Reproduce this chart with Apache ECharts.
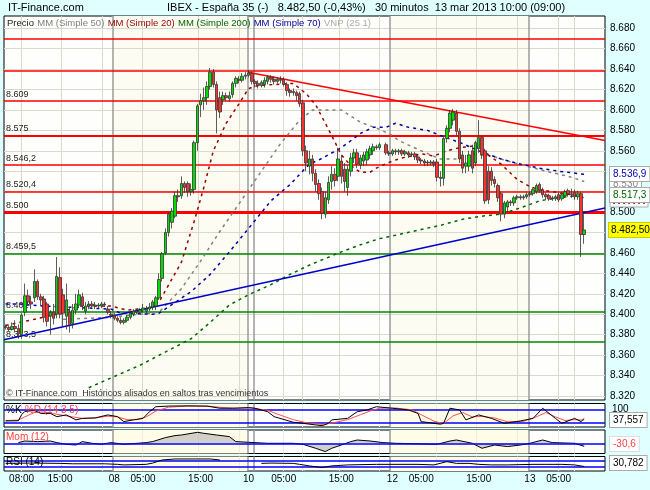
<!DOCTYPE html>
<html>
<head>
<meta charset="utf-8">
<title>IBEX - España 35 - 30 minutos</title>
<script src="https://cdn.jsdelivr.net/npm/echarts@6.0.0/dist/echarts.min.js"></script>
<style>
  html, body { margin: 0; padding: 0; background: #e0ffff; }
  #chart { width: 650px; height: 490px; }
</style>
</head>
<body>
<div id="chart"></div>
<script>
// 30-minute slots along the time axis
const N = 188;
const xLabels = [[5, '08:00'], [17, '15:00'], [34, '08'], [43, '05:00'], [61, '15:00'], [76, '10'],
  [87, '05:00'], [105, '15:00'], [121, '12'], [130, '05:00'], [148, '15:00'], [164, '13'], [173, '05:00']];
const dayLines = [33.5, 75.6, 77.5, 120.3, 163.5];
const hourLines = [5.0, 17.5, 30.3, 42.6, 60.3, 73.1, 86.7, 92.8, 104.4, 116.9, 134.8, 147.1, 160.1, 172.9, 177.9];
const shadedDays = [[33.5, 75.6], [120.3, 163.5]];

const priceTicks = [8320, 8340, 8360, 8380, 8400, 8420, 8440, 8460, 8480, 8500,
  8520, 8540, 8560, 8580, 8600, 8620, 8640, 8660, 8680];

// [open, close, low, high], one per slot from slot 0
const ohlc = [
  [8388,8387,8385,8390],[8387,8385,8383,8389],[8385,8388,8384,8392],[8388,8386,8383,8394],
  [8386,8381,8376,8390],[8380,8399,8376,8401],[8402,8418,8398,8430],[8418,8412,8408,8424],
  [8412,8410,8405,8418],[8416,8432,8412,8444],[8432,8417,8414,8434],[8417,8414,8408,8420],
  [8415,8397,8392,8418],[8410,8393,8388,8412],[8398,8402,8380,8404],[8402,8396,8390,8410],
  [8400,8437,8396,8456],[8436,8400,8396,8446],[8419,8401,8388,8425],[8398,8414,8385,8430],
  [8402,8390,8382,8407],[8391,8404,8386,8410],[8404,8410,8400,8420],[8409,8419,8406,8424],
  [8417,8408,8404,8421],[8403,8408,8400,8412],[8408,8410,8405,8413],[8410,8408,8406,8413],
  [8408,8409,8405,8412],[8409,8408,8406,8411],[8408,8410,8406,8412],[8410,8409,8407,8412],
  [8405,8402,8400,8408],[8400,8399,8396,8403],[8399,8396,8394,8401],[8396,8394,8392,8398],
  [8394,8392,8390,8397],[8392,8394,8390,8396],[8394,8397,8392,8399],[8397,8401,8395,8403],
  [8400,8403,8398,8405],[8403,8402,8400,8405],[8402,8404,8400,8406],[8404,8406,8402,8410],
  [8403,8405,8401,8408],[8405,8407,8403,8411],[8407,8412,8404,8414],[8408,8416,8404,8418],
  [8416,8434,8414,8440],[8435,8459,8432,8461],[8460,8480,8458,8484],[8480,8498,8476,8500],
  [8490,8501,8484,8504],[8496,8516,8494,8520],[8516,8515,8510,8522],[8516,8528,8513,8535],
  [8528,8524,8519,8530],[8528,8520,8515,8530],[8520,8522,8516,8528],[8522,8568,8518,8570],
  [8568,8604,8560,8606],[8605,8609,8593,8616],[8609,8612,8600,8622],[8612,8623,8605,8628],
  [8623,8637,8620,8641],[8637,8625,8622,8640],[8625,8600,8577,8628],[8612,8598,8592,8618],
  [8610,8614,8605,8618],[8614,8612,8609,8617],[8611,8614,8608,8618],[8615,8626,8612,8628],
  [8626,8631,8622,8633],[8630,8629,8626,8633],[8629,8633,8627,8636],[8633,8634,8630,8637],
  [8634,8636,8632,8639],[8636,8628,8625,8638],[8628,8626,8622,8630],[8626,8624,8621,8629],
  [8624,8627,8622,8629],[8625,8629,8622,8632],[8628,8632,8625,8634],[8632,8630,8627,8634],
  [8630,8628,8625,8633],[8628,8630,8626,8632],[8630,8629,8626,8633],[8630,8625,8623,8632],
  [8625,8619,8614,8627],[8619,8617,8613,8621],[8617,8618,8614,8621],[8617,8614,8609,8619],
  [8616,8606,8603,8618],[8607,8560,8555,8610],[8560,8548,8540,8565],[8545,8552,8537,8560],
  [8552,8538,8530,8556],[8538,8527,8520,8542],[8528,8518,8512,8532],[8520,8499,8493,8524],
  [8498,8514,8494,8520],[8512,8529,8508,8535],[8530,8537,8522,8545],[8537,8531,8525,8543],
  [8535,8552,8530,8563],[8550,8535,8528,8556],[8542,8530,8520,8548],[8524,8542,8516,8546],
  [8540,8553,8535,8558],[8553,8558,8548,8562],[8558,8547,8543,8562],[8546,8553,8542,8556],
  [8550,8556,8545,8559],[8551,8559,8546,8562],[8556,8562,8552,8565],[8560,8564,8556,8567],
  [8564,8563,8561,8566],[8563,8566,8561,8568],'-',[8566,8558,8556,8568],
  [8558,8557,8555,8560],[8557,8560,8555,8562],[8560,8559,8556,8562],[8559,8560,8556,8562],
  [8560,8557,8555,8562],[8557,8559,8555,8561],[8558,8556,8553,8560],[8556,8557,8554,8559],
  [8557,8554,8551,8559],[8554,8551,8548,8556],[8551,8550,8547,8553],[8550,8548,8545,8552],
  [8549,8548,8545,8551],[8548,8549,8546,8551],[8549,8547,8544,8551],[8549,8534,8530,8552],
  [8534,8533,8525,8540],[8533,8572,8526,8575],[8572,8582,8568,8585],[8582,8597,8578,8600],
  [8590,8598,8585,8601],[8597,8579,8575,8600],[8579,8552,8548,8582],[8556,8543,8538,8560],
  [8545,8548,8538,8556],[8545,8556,8540,8560],[8560,8543,8538,8566],[8548,8568,8545,8570],
  [8562,8573,8558,8590],[8573,8556,8552,8575],[8560,8511,8508,8562],[8540,8512,8508,8545],
  [8540,8531,8526,8544],[8532,8528,8524,8535],[8526,8514,8510,8528],[8518,8498,8491,8520],
  [8498,8509,8494,8511],[8505,8510,8500,8512],[8510,8509,8506,8512],[8509,8514,8506,8516],
  [8514,8515,8512,8517],[8515,8514,8512,8517],[8514,8515,8512,8517],[8515,8517,8513,8519],
  [8517,8518,8515,8520],[8518,8522,8516,8524],[8520,8526,8518,8528],[8527,8521,8519,8529],
  [8522,8517,8514,8524],[8517,8515,8512,8519],[8516,8513,8511,8518],[8514,8513,8511,8516],
  [8513,8515,8511,8517],[8517,8512,8510,8519],[8513,8517,8511,8519],[8516,8520,8514,8522],
  [8521,8518,8515,8523],[8518,8517,8514,8523],[8519,8515,8512,8522],[8515,8518,8512,8521],
  [8518,8478,8456,8520],[8478,8482.5,8469,8498]
];

// moving averages, [slot, value]
const mm20 = [[0,8389],[9,8395],[16,8400],[23,8408],[33,8408],[38,8404],[45,8406],[48,8412],[55,8451],
  [59,8491],[62,8524],[65,8560],[69,8587],[73,8606],[76,8621],[79,8624],[90,8626],[94,8616],[97,8605],
  [100,8587],[102,8575],[105,8556],[107,8549],[109,8543],[111,8539],[114,8539],[116,8543],[118,8546],
  [121,8550],[124,8553],[130,8557],[134,8555],[138,8560],[142,8563],[147,8565],[150,8558],[155,8547],
  [160,8532],[164,8525],[167,8522],[173,8519],[177,8517],[181,8514]];
const mm50 = [[18,8395],[33,8397],[48,8402],[55,8425],[61,8452],[67,8481],[73,8508],[80,8540],[86,8567],
  [92,8590],[96,8600],[105,8600],[111,8588],[117,8581],[121,8575],[123,8570],[130,8560],[136,8552],
  [142,8552],[146,8557],[152,8555],[157,8550],[163,8545],[169,8540],[176,8535],[181,8530]];
const mm70 = [[0,8410],[4,8410],[12,8408],[33,8405],[36,8401],[46,8400],[48,8401],[58,8422],[64,8439],
  [70,8461],[76,8484],[83,8511],[89,8527],[95,8547],[98,8551],[105,8563],[111,8577],[115,8583],
  [119,8583],[122,8587],[126,8583],[132,8580],[136,8575],[143,8567],[148,8560],[155,8552],[161,8547],
  [167,8543],[173,8540],[181,8537]];
const mm200 = [[26,8328],[42,8350],[58,8376],[64,8392],[70,8409],[76,8419],[83,8429],[89,8439],[95,8448],
  [105,8461],[111,8468],[117,8474],[123,8478],[130,8483],[136,8487],[143,8493],[149,8496],[155,8498],
  [161,8504],[167,8511],[173,8514],[181,8517]];

const resistLine = [[75.8, 8637], [187.5, 8570]];
const supportLine = [[-0.5, 8375], [187.5, 8504]];
const redLevels = [8670, 8638, 8609, 8575, 8546.2, 8520.4, 8500];
const labelledRed = [8609, 8575, 8546.2, 8520.4, 8500];
const greenLevels = [8459.5, 8402, 8373.5];

// indicators, [slot, value]
const stochK = [[0,26],[4,27],[5,55],[6,70],[9,75],[11,61],[14,61],[16,46],[19,54],[22,31],[24,38],[28,40],
  [32,54],[35,46],[37,23],[40,31],[43,38],[45,69],[47,92],[51,95],[57,96],[63,95],[67,85],[71,85],[76,88],
  [78,85],[82,69],[84,46],[90,20],[93,15],[99,4],[101,15],[102,31],[107,38],[110,69],[113,77],[116,92],
  [121,85],[126,77],[129,61],[130,23],[136,11],[137,15],[139,85],[142,77],[144,31],[148,54],[152,38],
  [156,15],[161,26],[165,38],[168,85],[172,38],[174,15],[178,38],[180,23],[181,37.557]];
const stochD = [[0,28],[4,30],[6,45],[9,65],[12,68],[15,60],[18,52],[21,45],[24,38],[28,40],[32,48],[35,45],
  [38,32],[41,32],[44,45],[47,72],[51,90],[57,95],[64,94],[68,88],[72,85],[77,86],[82,75],[85,58],[90,32],
  [94,18],[99,10],[102,16],[107,32],[111,55],[114,72],[117,85],[122,86],[127,78],[130,55],[134,25],
  [137,14],[140,50],[143,65],[146,45],[149,47],[153,40],[157,22],[162,24],[166,45],[169,65],[172,45],
  [175,28],[178,32],[181,30]];
const momentum = [[4,7],[6,23],[10,17],[14,23],[16,7],[19,-10],[22,-17],[24,17],[27,0],[30,-10],[33,7],
  [37,-10],[44,7],[46,17],[50,57],[53,77],[55,83],[60,110],[62,100],[66,83],[70,67],[72,17],[76,10],
  [82,0],[90,0],[93,-10],[97,-50],[100,-83],[102,-50],[105,-17],[108,17],[110,33],[114,23],[118,7],
  [122,0],[135,-10],[139,23],[141,33],[146,0],[149,-50],[153,-17],[157,-33],[161,-17],[164,0],[168,33],
  [171,7],[178,0],[181,-30.6]];
const rsi = [[0,53],[8,55],[17,53],[21,50],[31,50],[35,46],[37,42],[44,46],[46,55],[49,77],[53,84],[64,84],
  [67,77],[70,'-'],[80,53],[83,55],[90,53],[92,46],[95,35],[99,23],[102,35],[107,42],[116,46],[129,46],
  [134,42],[138,65],[141,53],[145,53],[148,46],[152,42],[157,42],[165,46],[169,46],[174,46],[178,42],
  [181,30.782]];

const legendParts = [['Precio', '#222222'], ['MM (Simple 50)', '#808080'], ['MM (Simple 20)', '#990000'],
  ['MM (Simple 200)', '#006600'], ['MM (Simple 70)', '#000099'], ['VNP (25 1)', '#aaaaaa']];

const FONT = 'Liberation Sans, Arial, sans-serif';

function fmtPrice(v, dec) {
  const parts = v.toFixed(dec).split('.');
  const i = parts[0];
  const t = i.slice(0, -3) + '.' + i.slice(-3);
  return parts[1] ? t + ',' + parts[1] : t;
}

const cats = new Array(N).fill('');
xLabels.forEach(([i, t]) => { cats[i] = t; });

const dayLine = { color: '#9a9a9a', width: 1.5 };

function backdrop(yLines, lightColor, shade) {
  return {
    markArea: {
      silent: true, z: 0,
      itemStyle: { color: shade },
      data: shadedDays.map(d => [{ xAxis: d[0] }, { xAxis: d[1] }])
    },
    markLine: {
      silent: true, z: 1, symbol: 'none', label: { show: false },
      data: []
        .concat(yLines.map(v => ({ yAxis: v, lineStyle: { color: lightColor, width: 1, type: 'solid' } })))
        .concat(hourLines.map(v => ({ xAxis: v, lineStyle: { color: lightColor, width: 1, type: 'solid' } })))
        .concat(dayLines.map(v => ({ xAxis: v, lineStyle: Object.assign({ type: 'solid' }, dayLine) })))
    }
  };
}

function maSeries(name, data, color) {
  return {
    name, type: 'line', xAxisIndex: 1, yAxisIndex: 0, data, z: 6,
    symbol: 'none', silent: true,
    lineStyle: { color, width: 1.5, type: [3, 4] }
  };
}

function levelLabel(v) {
  return { show: true, position: 'insideStartTop', formatter: fmtPrice(v, v % 1 ? 1 : 0),
    color: '#222', fontSize: 9, fontFamily: FONT, distance: [2, 2] };
}

const chart = echarts.init(document.getElementById('chart'), null, { renderer: 'canvas' });

const panelGrid = { left: 4, width: 601, show: true, backgroundColor: '#ffffff', borderColor: '#000', borderWidth: 1 };
const slotAxis = (gi) => ({ type: 'value', gridIndex: gi, min: -0.5, max: N - 0.5, show: false });

const option = {
  animation: false,
  backgroundColor: '#e0ffff',
  textStyle: { fontFamily: FONT },
  grid: [
    { left: 4, width: 601, top: 16, height: 384, show: true, backgroundColor: '#fefefc', borderColor: '#000', borderWidth: 1 },
    Object.assign({ top: 403.5, height: 23.5 }, panelGrid),
    Object.assign({ top: 430, height: 23.5 }, panelGrid),
    Object.assign({ top: 456.5, height: 14.5 }, panelGrid)
  ],
  xAxis: [
    { type: 'category', gridIndex: 0, data: cats, show: false },
    slotAxis(0), slotAxis(1), slotAxis(2), slotAxis(3),
    {
      type: 'category', gridIndex: 3, data: cats, position: 'bottom',
      axisLine: { show: false }, axisTick: { show: false }, splitLine: { show: false },
      axisLabel: { interval: 0, color: '#000', fontSize: 10, fontFamily: FONT, margin: 3 }
    }
  ],
  yAxis: [
    {
      type: 'value', gridIndex: 0, min: 8316, max: 8692, position: 'right',
      axisLine: { show: false },
      axisTick: { show: true, length: 3, customValues: priceTicks, lineStyle: { color: '#000' } },
      axisLabel: { customValues: priceTicks, formatter: v => fmtPrice(v, 0), color: '#000', fontSize: 10, fontFamily: FONT, margin: 5 },
      splitLine: { show: false }
    },
    { type: 'value', gridIndex: 1, min: -2, max: 107, show: false },
    { type: 'value', gridIndex: 2, min: -102, max: 133, show: false },
    { type: 'value', gridIndex: 3, min: -1, max: 101.5, show: false }
  ],
  series: [
    // grid, day shading and separators of the price panel
    Object.assign({ type: 'line', xAxisIndex: 1, yAxisIndex: 0, data: [[-10, 8000]], silent: true, symbol: 'none', z: 1 },
      backdrop(priceTicks, '#dadacc', '#fcfcf2')),
    // horizontal support / resistance levels
    {
      type: 'line', xAxisIndex: 1, yAxisIndex: 0, data: [[-10, 8000]], silent: true, symbol: 'none', z: 3,
      markLine: {
        silent: true, z: 3, symbol: 'none',
        data: redLevels.map(v => ({
          yAxis: v,
          lineStyle: { color: '#ff0000', width: v === 8500 ? 3 : (v === 8575 ? 2 : 1.5), type: 'solid', opacity: 1 },
          label: labelledRed.includes(v) ? levelLabel(v) : { show: false }
        })).concat(greenLevels.map(v => ({
          yAxis: v,
          lineStyle: { color: '#008800', width: 1.5, type: 'solid', opacity: 1 },
          label: levelLabel(v)
        })))
      }
    },
    maSeries('MM (Simple 200)', mm200, '#006600'),
    maSeries('MM (Simple 50)', mm50, '#808080'),
    maSeries('MM (Simple 70)', mm70, '#0000aa'),
    maSeries('MM (Simple 20)', mm20, '#990000'),
    {
      type: 'line', xAxisIndex: 1, yAxisIndex: 0, data: resistLine, symbol: 'none', silent: true, z: 7,
      lineStyle: { color: '#ff0000', width: 1.5 }
    },
    {
      type: 'line', xAxisIndex: 1, yAxisIndex: 0, data: supportLine, symbol: 'none', silent: true, z: 7,
      lineStyle: { color: '#0000cc', width: 1.5 }
    },
    {
      name: 'Precio', type: 'candlestick', xAxisIndex: 0, yAxisIndex: 0, data: ohlc, z: 10,
      barWidth: 3,
      itemStyle: { color: '#00dd00', color0: '#ff3030', borderColor: '#333', borderColor0: '#333', borderWidth: 0.8 }
    },

    // %K %D panel
    Object.assign({
      type: 'line', xAxisIndex: 2, yAxisIndex: 1, data: stochD, symbol: 'none', silent: true, z: 5,
      lineStyle: { color: '#ff5050', width: 1 }
    }, backdrop([], '#ecece4', '#fffde8')),
    {
      type: 'line', xAxisIndex: 2, yAxisIndex: 1, data: stochK, symbol: 'none', silent: true, z: 6,
      lineStyle: { color: '#000', width: 1 },
      markLine: { silent: true, z: 4, symbol: 'none', label: { show: false },
        lineStyle: { color: '#0000ff', width: 1.5, type: 'solid' }, data: [{ yAxis: 80 }, { yAxis: 20 }] }
    },

    // momentum panel
    Object.assign({
      type: 'line', xAxisIndex: 3, yAxisIndex: 2, data: momentum, symbol: 'none', silent: true, z: 5,
      lineStyle: { color: '#000', width: 1 }, areaStyle: { color: '#bdbdbd', origin: 0 }
    }, backdrop([], '#ecece4', '#fffde8')),
    {
      type: 'line', xAxisIndex: 3, yAxisIndex: 2, data: [[-10, 0]], symbol: 'none', silent: true, z: 6,
      markLine: { silent: true, z: 6, symbol: 'none', label: { show: false },
        lineStyle: { color: '#0000ff', width: 1.5, type: 'solid' }, data: [{ yAxis: 0 }] }
    },

    // RSI panel
    Object.assign({
      type: 'line', xAxisIndex: 4, yAxisIndex: 3, data: rsi, symbol: 'none', silent: true, z: 5,
      lineStyle: { color: '#000', width: 1 }
    }, backdrop([], '#ecece4', '#fffde8')),
    {
      type: 'line', xAxisIndex: 4, yAxisIndex: 3, data: [[-10, 50]], symbol: 'none', silent: true, z: 6,
      markLine: { silent: true, z: 4, symbol: 'none', label: { show: false },
        lineStyle: { color: '#0000ff', width: 1.5, type: 'solid' }, data: [{ yAxis: 70 }, { yAxis: 30 }] }
    }
  ],
  graphic: [
    { type: 'text', x: 8, y: 8, z: 100, style: { text: 'IT-Finance.com', font: '11px ' + FONT, fill: '#000', verticalAlign: 'middle' } },
    { type: 'text', x: 167, y: 8, z: 100, style: { text: 'IBEX - España 35 (-)   8.482,50 (-0,43%)   30 minutos  13 mar 2013 10:00 (09:00)', font: '11px ' + FONT, fill: '#000', verticalAlign: 'middle' } },
    {
      type: 'text', x: 7, y: 23, z: 100,
      style: {
        text: legendParts.map((p, i) => '{c' + i + '|' + p[0] + '}').join(' '),
        rich: Object.fromEntries(legendParts.map((p, i) => ['c' + i, { fill: p[1], font: '9.5px ' + FONT }])),
        verticalAlign: 'middle'
      }
    },
    { type: 'text', x: 6, y: 394, z: 100, style: { text: '© IT-Finance.com  Históricos alisados en saltos tras vencimientos', font: '9px ' + FONT, fill: '#333', verticalAlign: 'middle' } },
    {
      type: 'text', x: 6, y: 410, z: 100,
      style: { text: '{k|%K} {d|%D (14 3 5)}', rich: { k: { fill: '#000', font: '10px ' + FONT }, d: { fill: '#ff4040', font: '10px ' + FONT } }, verticalAlign: 'middle' }
    },
    { type: 'text', x: 6, y: 437, z: 100, style: { text: 'Mom (12)', font: '10px ' + FONT, fill: '#ff4040', verticalAlign: 'middle' } },
    { type: 'text', x: 6, y: 462, z: 100, style: { text: 'RSI (14)', font: '10px ' + FONT, fill: '#000', verticalAlign: 'middle' } },

    // right-hand value boxes
    { type: 'text', x: 612, y: 409, z: 100, style: { text: '100', font: '10px ' + FONT, fill: '#000', verticalAlign: 'middle' } },
    { type: 'text', x: 610, y: 420, z: 100, style: { text: '37,557', font: '10px ' + FONT, fill: '#000', verticalAlign: 'middle', backgroundColor: '#fff', borderColor: '#aaa', borderWidth: 1, padding: [2, 3] } },
    { type: 'text', x: 610, y: 444, z: 100, style: { text: '-30,6', font: '10px ' + FONT, fill: '#ff4040', verticalAlign: 'middle', backgroundColor: '#fff', borderColor: '#ddd', borderWidth: 1, padding: [2, 3] } },
    { type: 'text', x: 610, y: 463, z: 100, style: { text: '30,782', font: '10px ' + FONT, fill: '#000', verticalAlign: 'middle', backgroundColor: '#fff', borderColor: '#aaa', borderWidth: 1, padding: [2, 3] } },
    { type: 'text', x: 610, y: 184, z: 100, style: { text: '8.530', font: '10px ' + FONT, fill: '#888', verticalAlign: 'middle', backgroundColor: '#fff', borderColor: '#aaa', borderWidth: 1, padding: [2, 3] } },
    { type: 'text', x: 610, y: 174, z: 101, style: { text: '8.536,9', font: '10px ' + FONT, fill: '#0000aa', verticalAlign: 'middle', backgroundColor: '#fff', borderColor: '#aaa', borderWidth: 1, padding: [2, 3] } },
    { type: 'rect', z: 100, shape: { x: 610, y: 199, width: 38, height: 8 }, style: { fill: '#fff', stroke: '#aaa', lineWidth: 1 } },
    { type: 'line', z: 101, shape: { x1: 613, y1: 203, x2: 645, y2: 203 }, style: { stroke: '#990000', lineWidth: 1.5, lineDash: [2, 3] } },
    { type: 'text', x: 610, y: 195, z: 102, style: { text: '8.517,3', font: '10px ' + FONT, fill: '#006600', verticalAlign: 'middle', backgroundColor: '#fff', borderColor: '#aaa', borderWidth: 1, padding: [2, 3] } },
    { type: 'text', x: 609, y: 230, z: 100, style: { text: '8.482,50', font: '10px ' + FONT, fill: '#000', verticalAlign: 'middle', backgroundColor: '#ffff00', borderColor: '#cccc00', borderWidth: 1, padding: [2, 2] } }
  ]
};

chart.setOption(option);
</script>
</body>
</html>
